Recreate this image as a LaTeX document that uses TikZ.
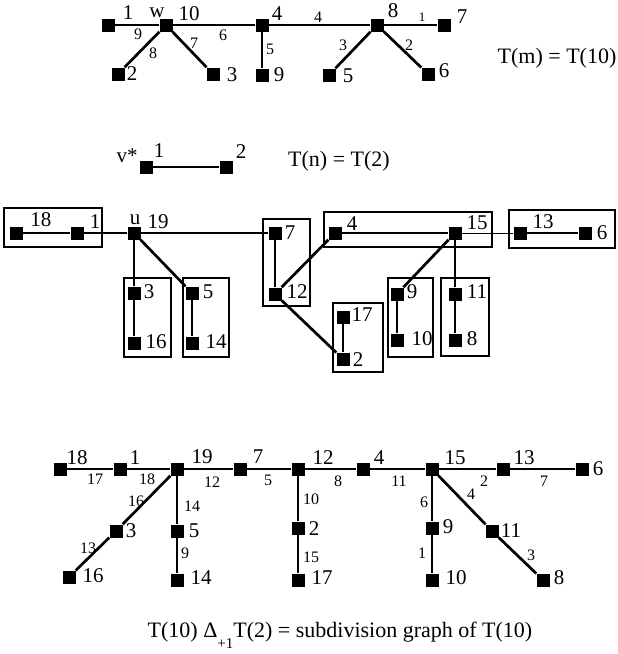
\documentclass[tikz,border=0pt]{standalone}
\usepackage{fontspec}
\setmainfont{Liberation Serif}
\tikzset{
  vtx/.style={rectangle, fill=black, inner sep=0pt, minimum size=13pt},
  lbl/.style={inner sep=0pt, font=\fontsize{21}{21}\selectfont},
  elbl/.style={inner sep=0pt, font=\fontsize{16}{16}\selectfont},
  ttl/.style={inner sep=0pt, font=\fontsize{22}{22}\selectfont},
  link/.style={draw=black, line width=1.4pt},
  stem/.style={draw=black, line width=1.9pt},
  heavy/.style={draw=black, line width=2.7pt},
  grp/.style={draw=black, line width=1.5pt},
}
\begin{document}
\begin{tikzpicture}[x=1pt, y=-1pt]
\useasboundingbox (0,0) rectangle (618,654);

% T(m) = T(10)
\node[vtx] (a1) at (108,25) {};
\node[vtx] (a10) at (166,25) {};
\node[vtx] (a4) at (262,25) {};
\node[vtx] (a8) at (377,25) {};
\node[vtx] (a7) at (444,25) {};
\node[vtx] (a2) at (118,74) {};
\node[vtx] (a3) at (213,74) {};
\node[vtx] (a9) at (262,75) {};
\node[vtx] (a5) at (329,75) {};
\node[vtx] (a6) at (428,74) {};
\draw[link] (a1) -- (a10) -- (a4) -- (a8) -- (a7);
\draw[heavy] (a10) -- (a2);
\draw[heavy] (a10) -- (a3);
\draw[heavy] (a8) -- (a5);
\draw[heavy] (a8) -- (a6);
\draw[stem] (a4) -- (a9);
\node[lbl] (a1l) at (128,13) {1};
\node[lbl] (wl) at (157,13) {w};
\node[lbl] (a10l) at (189,14) {10};
\node[lbl] (a4l) at (277,14) {4};
\node[lbl] (a8l) at (393,11) {8};
\node[lbl] (a7l) at (462,17) {7};
\node[lbl] (a2l) at (132,74) {2};
\node[lbl] (a3l) at (232,75) {3};
\node[lbl] (a9l) at (279,75) {9};
\node[lbl] (a5l) at (348,76) {5};
\node[lbl] (a6l) at (444,71) {6};
\node[elbl] (ea9) at (138,34) {9};
\node[elbl] (ea8) at (153,53) {8};
\node[elbl] (ea7) at (194,43) {7};
\node[elbl] (ea6) at (223,35) {6};
\node[elbl] (ea5) at (270,49) {5};
\node[elbl] (ea4) at (318,17) {4};
\node[elbl] (ea3) at (343,45) {3};
\node[elbl] (ea2) at (409,45) {2};
\node[elbl, font=\fontsize{13}{13}\selectfont] (ea1) at (422,17) {1};
\node[ttl] (tm) at (557,58) {T(m) = T(10)};

% T(n) = T(2)
\node[vtx] (b1) at (146,167) {};
\node[vtx] (b2) at (226,167) {};
\draw[stem] (b1) -- (b2);
\node[lbl] (vstar) at (127,156) {v*};
\node[lbl] (b1l) at (159,151) {1};
\node[lbl] (b2l) at (241,152) {2};
\node[ttl] (tn) at (339,161) {T(n) = T(2)};

% grouped tree
\draw[grp] (4,208) rectangle (102,247);
\draw[grp] (124,278) rectangle (171,357);
\draw[grp] (183,278) rectangle (229,357);
\draw[grp] (263,219) rectangle (310,306);
\draw[grp] (324,212) rectangle (492,247);
\draw[grp] (509,210) rectangle (615,248);
\draw[grp] (333,303) rectangle (383,372);
\draw[grp] (388,278) rectangle (433,357);
\draw[grp] (441,278) rectangle (489,356);
\node[vtx] (c18) at (16,233) {};
\node[vtx] (c1) at (77,233) {};
\node[vtx] (c19) at (134,233) {};
\node[vtx] (c7) at (275,233) {};
\node[vtx] (c12) at (275,294) {};
\node[vtx] (c3) at (134,293) {};
\node[vtx] (c16) at (134,343) {};
\node[vtx] (c5) at (192,293) {};
\node[vtx] (c14) at (192,343) {};
\node[vtx] (c4) at (335,233) {};
\node[vtx] (c15) at (455,233) {};
\node[vtx] (c13) at (520,233) {};
\node[vtx] (c6) at (585,233) {};
\node[vtx] (c9) at (397,294) {};
\node[vtx] (c10) at (397,340) {};
\node[vtx] (c11) at (455,294) {};
\node[vtx] (c8) at (455,340) {};
\node[vtx] (c17) at (343,317) {};
\node[vtx] (c2) at (343,359) {};
\draw[link] (c18) -- (c1) -- (c19) -- (c7);
\draw[stem] (c19) -- (c3) -- (c16);
\draw[heavy] (c19) -- (c5);
\draw[stem] (c5) -- (c14);
\draw[stem] (c7) -- (c12);
\draw[heavy] (c12) -- (c4);
\draw[heavy] (c12) -- (c2);
\draw[stem] (c2) -- (c17);
\draw[link] (c4) -- (c15);
\draw[draw=black, line width=1pt] (c15) -- (c13);
\draw[link] (c13) -- (c6);
\draw[heavy] (c15) -- (c9);
\draw[stem] (c9) -- (c10);
\draw[stem] (c15) -- (c11) -- (c8);
\node[lbl] (c18l) at (41,220) {18};
\node[lbl] (c1l) at (95,222) {1};
\node[lbl] (ul) at (135,220) {u};
\node[lbl] (c19l) at (158,222) {19};
\node[lbl] (c7l) at (290,233) {7};
\node[lbl] (c12l) at (297,292) {12};
\node[lbl] (c3l) at (149,292) {3};
\node[lbl] (c16l) at (156,342) {16};
\node[lbl] (c5l) at (208,292) {5};
\node[lbl] (c14l) at (216,342) {14};
\node[lbl] (c4l) at (352,224) {4};
\node[lbl] (c15l) at (477,223) {15};
\node[lbl] (c13l) at (543,222) {13};
\node[lbl] (c6l) at (602,233) {6};
\node[lbl] (c9l) at (412,292) {9};
\node[lbl] (c10l) at (422,339) {10};
\node[lbl] (c11l) at (477,292) {11};
\node[lbl] (c8l) at (472,339) {8};
\node[lbl] (c17l) at (362,315) {17};
\node[lbl] (c2l) at (358,360) {2};

% subdivision graph
\node[vtx] (d18) at (60,469) {};
\node[vtx] (d1) at (120,469) {};
\node[vtx] (d19) at (177,469) {};
\node[vtx] (d7) at (240,469) {};
\node[vtx] (d12) at (298,469) {};
\node[vtx] (d4) at (363,469) {};
\node[vtx] (d15) at (432,469) {};
\node[vtx] (d13) at (503,469) {};
\node[vtx] (d6) at (582,469) {};
\node[vtx] (d3) at (116,531) {};
\node[vtx] (d16) at (69,577) {};
\node[vtx] (d5) at (177,531) {};
\node[vtx] (d14) at (177,580) {};
\node[vtx] (d2) at (298,528) {};
\node[vtx] (d17) at (298,580) {};
\node[vtx] (d9) at (432,528) {};
\node[vtx] (d10) at (432,580) {};
\node[vtx] (d11) at (492,531) {};
\node[vtx] (d8) at (543,580) {};
\draw[link] (d18) -- (d1) -- (d19) -- (d7) -- (d12) -- (d4) -- (d15) -- (d13) -- (d6);
\draw[heavy] (d19) -- (d3) -- (d16);
\draw[stem] (d19) -- (d5) -- (d14);
\draw[stem] (d12) -- (d2) -- (d17);
\draw[stem] (d15) -- (d9) -- (d10);
\draw[heavy] (d15) -- (d11) -- (d8);
\node[lbl] (d18l) at (77,458) {18};
\node[lbl] (d1l) at (135,458) {1};
\node[lbl] (d19l) at (202,457) {19};
\node[lbl] (d7l) at (258,457) {7};
\node[lbl] (d12l) at (323,458) {12};
\node[lbl] (d4l) at (379,458) {4};
\node[lbl] (d15l) at (455,458) {15};
\node[lbl] (d13l) at (524,458) {13};
\node[lbl] (d6l) at (598,469) {6};
\node[lbl] (d3l) at (131,531) {3};
\node[lbl] (d16l) at (93,576) {16};
\node[lbl] (d5l) at (194,531) {5};
\node[lbl] (d14l) at (201,578) {14};
\node[lbl] (d2l) at (314,529) {2};
\node[lbl] (d17l) at (322,578) {17};
\node[lbl] (d9l) at (448,527) {9};
\node[lbl] (d10l) at (456,578) {10};
\node[lbl] (d11l) at (511,531) {11};
\node[lbl] (d8l) at (559,578) {8};
\node[elbl] (ed17) at (95,479) {17};
\node[elbl] (ed18) at (147,479) {18};
\node[elbl] (ed12) at (212,482) {12};
\node[elbl] (ed5) at (268,480) {5};
\node[elbl] (ed8) at (338,481) {8};
\node[elbl] (ed11) at (399,481) {11};
\node[elbl] (ed2) at (484,481) {2};
\node[elbl] (ed7) at (544,481) {7};
\node[elbl] (ed16) at (136,501) {16};
\node[elbl] (ed13) at (88,548) {13};
\node[elbl] (ed14) at (192,506) {14};
\node[elbl] (ed9) at (185,553) {9};
\node[elbl] (ed10) at (311,499) {10};
\node[elbl] (ed15) at (311,557) {15};
\node[elbl] (ed6) at (424,502) {6};
\node[elbl] (ed1) at (422,553) {1};
\node[elbl] (ed4) at (471,494) {4};
\node[elbl] (ed3) at (531,555) {3};
\node[ttl, anchor=base] (cap) at (340,637)
 {T(10) Δ\raisebox{-11pt}{\fontsize{15}{15}\selectfont +1}T(2) = subdivision graph of T(10)};
\end{tikzpicture}
\end{document}
